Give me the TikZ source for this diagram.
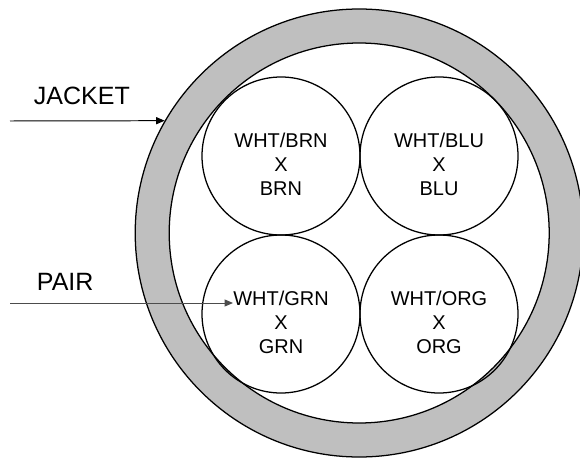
\documentclass[tikz,border=0pt]{standalone}
\usepackage{fontspec}
\setmainfont{Liberation Sans}
\usetikzlibrary{arrows.meta}

\tikzset{
    pair/.style={draw, circle, line width=0.9pt, inner sep=0pt, minimum size=3.95cm},
    pairlabel/.style={align=center, font=\fontsize{14.2}{17}\selectfont},
    callout/.style={font=\fontsize{17.8}{21}\selectfont, anchor=base west},
    pointer/.style={line width=0.7pt, -{Triangle[length=6pt,width=5pt]}}
}

\begin{document}
\begin{tikzpicture}
                \useasboundingbox (0,0) rectangle (14.5,11.425);
                \clip (0,0) rectangle (14.5,11.425);

                % jacket ring
                \fill[black!25, even odd rule] (8.98,5.6) circle (5.6) (8.98,5.6) circle (4.75);
                \node[draw, circle, line width=0.9pt, inner sep=0pt, minimum size=11.2cm] (jacket) at (8.98,5.6) {};
                \node[draw, circle, line width=0.9pt, inner sep=0pt, minimum size=9.5cm] (core) at (8.98,5.6) {};

                % pairs
                \node[pair] (brn) at (7.025,7.525) {};
                \node[pair] (blu) at (10.975,7.525) {};
                \node[pair] (grn) at (7.025,3.575) {};
                \node[pair] (org) at (10.975,3.575) {};

                \node[pairlabel] (brnlabel) at ([yshift=-0.21cm]brn.center) {WHT/BRN\\X\\BRN};
                \node[pairlabel] (blulabel) at ([yshift=-0.21cm]blu.center) {WHT/BLU\\X\\BLU};
                \node[pairlabel] (grnlabel) at ([yshift=-0.21cm]grn.center) {WHT/GRN\\X\\GRN};
                \node[pairlabel] (orglabel) at ([yshift=-0.21cm]org.center) {WHT/ORG\\X\\ORG};

                % callouts
                \node[callout] (jackettext) at (0.725,8.8) {JACKET};
                \node[callout] (pairtext) at (0.8,4.175) {PAIR};

                \coordinate (jacketfrom) at (0.25,8.4);
                \coordinate (pairfrom) at (0.25,3.85);
                \coordinate (pairto) at (5.825,3.85);

                \draw[pointer] (jacketfrom) to (jacket.150);
                \draw[pointer, black!70] (pairfrom) to (pairto);
            \end{tikzpicture}
\end{document}
